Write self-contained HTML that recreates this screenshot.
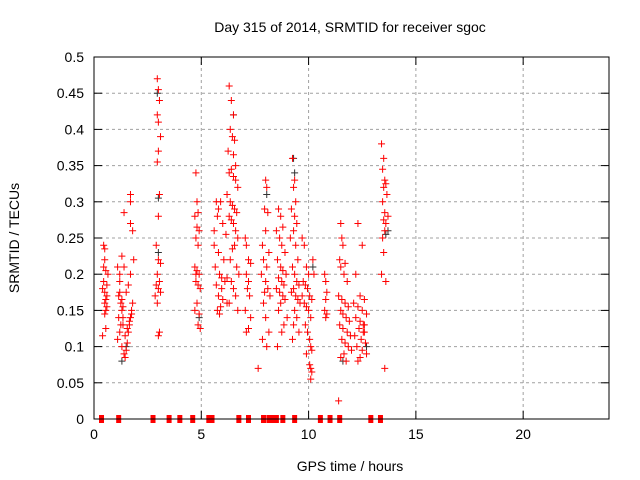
<!DOCTYPE html>
<html><head><meta charset="utf-8"><style>
html,body{margin:0;padding:0;background:#fff}
svg{display:block;font-family:"Liberation Sans",sans-serif}
</style></head><body>
<svg id="chart" width="640" height="480">
<text x="350" y="32" font-size="14" text-anchor="middle">Day 315 of 2014, SRMTID for receiver sgoc</text>
<text x="350" y="471" font-size="14" text-anchor="middle">GPS time / hours</text>
<text x="19" y="238" font-size="14" text-anchor="middle" transform="rotate(-90 19 238)">SRMTID / TECUs</text>
<g id="grid"></g>
<g id="axes"></g>
<g id="black"></g>
<g id="red"></g>
<rect x="94" y="57" width="515" height="362" fill="none" stroke="#000" stroke-width="1"/>
</svg>
<script>
const xTicks=[0,5,10,15,20];
const yTicks=[0,0.05,0.1,0.15,0.2,0.25,0.3,0.35,0.4,0.45,0.5];
const yTickLabels=["0","0.05","0.1","0.15","0.2","0.25","0.3","0.35","0.4","0.45","0.5"];
const redHours=[0.45,0.5,0.5,0.45,0.55,0.4,0.5,0.6,0.55,0.5,0.6,0.55,0.4,0.55,0.45,0.6,0.5,0.65,
1.1,1.2,1.15,1.25,1.3,1.35,1.2,1.1,1.3,1.4,1.45,1.5,1.55,1.6,1.65,1.7,1.75,1.8,1.5,1.6,1.7,1.4,1.3,1.2,1.15,1.25,1.35,1.45,1.55,1.65,1.75,1.85,1.2,1.3,1.7,1.7,1.4,1.7,1.8,1.35,
2.95,3.0,3.05,2.95,3.0,3.1,3.0,2.95,3.05,3.0,2.9,3.0,3.1,2.95,3.05,2.9,3.0,3.1,2.85,2.95,3.05,3.0,
4.75,4.8,4.85,4.7,4.8,4.9,4.75,4.85,4.7,4.8,4.9,4.75,4.85,4.95,4.8,4.7,4.9,4.85,4.95,4.75,
5.6,5.7,5.8,5.75,5.9,6.0,5.65,5.85,5.95,6.1,5.7,5.8,6.0,6.2,5.9,5.75,5.85,6.05,5.6,6.15,5.95,5.8,
6.3,6.4,6.5,6.35,6.45,6.55,6.25,6.5,6.6,6.4,6.3,6.5,6.6,6.7,6.2,6.35,6.45,6.55,6.65,6.3,6.4,6.5,6.6,6.7,6.55,6.45,6.35,6.65,6.75,6.2,6.4,6.5,6.6,6.3,6.7,
7.05,7.1,7.2,7.3,7.1,7.2,7.15,7.25,7.05,7.3,7.2,7.1,
8.0,8.05,7.95,8.1,8.0,7.85,8.15,7.9,8.05,7.8,8.0,8.1,7.95,8.2,7.9,8.0,8.15,7.85,8.05,7.65,
8.6,8.7,8.8,8.5,8.65,8.75,8.9,8.55,8.7,8.8,8.95,8.6,8.75,8.85,8.5,8.65,8.8,8.9,8.7,8.6,9.0,8.85,8.75,8.55,
9.25,9.35,9.3,9.4,9.2,9.35,9.45,9.3,9.15,9.4,9.5,9.25,9.35,9.45,9.55,9.3,9.2,9.4,9.5,9.6,9.35,9.45,9.3,9.55,9.25,
9.7,9.8,9.9,10.0,9.75,9.85,9.95,10.05,10.15,9.8,9.9,10.0,10.1,9.85,9.95,10.05,10.1,10.15,10.05,10.1,10.15,10.1,9.7,10.2,10.25,9.9,
10.75,10.8,10.85,10.8,10.75,10.85,10.8,
11.5,11.55,11.6,11.45,11.7,11.5,11.65,11.8,11.4,11.55,11.7,11.85,11.5,11.6,11.75,11.9,11.45,11.6,11.8,11.95,11.55,11.7,11.85,11.65,11.5,11.75,11.4,12.0,
12.3,12.5,12.2,12.4,12.6,12.1,12.3,12.5,12.7,12.2,12.4,12.6,12.35,12.55,12.15,12.45,12.65,12.25,12.5,12.7,12.4,12.3,12.6,12.55,
13.4,13.5,13.45,13.55,13.6,13.5,13.65,13.45,13.55,13.7,13.5,13.6,13.55,13.45,13.5,13.4,13.6,13.55];
const redValues=[.24,.235,.22,.21,.205,.18,.175,.17,.165,.16,.155,.15,.115,.125,.19,.185,.145,.2,
.21,.2,.17,.16,.15,.13,.12,.11,.1,.09,.085,.095,.105,.12,.13,.14,.15,.16,.175,.185,.2,.21,.225,.19,.14,.13,.14,.115,.125,.135,.145,.22,.175,.165,.31,.3,.285,.27,.26,.155,
.47,.455,.44,.42,.41,.39,.37,.355,.31,.28,.24,.22,.215,.2,.19,.185,.18,.175,.17,.16,.12,.115,
.34,.3,.285,.28,.265,.26,.25,.24,.21,.205,.2,.19,.185,.18,.16,.15,.145,.13,.125,.2,
.26,.3,.29,.28,.3,.27,.21,.2,.195,.19,.185,.17,.165,.16,.155,.15,.145,.22,.24,.255,.18,.23,
.46,.44,.42,.4,.39,.385,.37,.365,.35,.345,.34,.335,.33,.32,.31,.3,.295,.29,.285,.28,.275,.27,.26,.25,.24,.235,.22,.21,.2,.195,.19,.18,.17,.16,.15,
.25,.24,.22,.215,.2,.19,.18,.17,.15,.14,.125,.12,
.33,.32,.29,.285,.26,.24,.23,.22,.21,.2,.19,.18,.175,.17,.16,.14,.12,.11,.1,.07,
.29,.28,.265,.26,.25,.24,.23,.22,.21,.205,.2,.195,.19,.185,.18,.175,.17,.165,.16,.15,.14,.13,.12,.1,
.36,.33,.32,.3,.29,.28,.27,.26,.25,.24,.22,.21,.2,.19,.185,.18,.175,.17,.165,.16,.15,.14,.13,.12,.11,
.25,.24,.21,.2,.19,.185,.18,.17,.165,.16,.155,.15,.14,.13,.12,.11,.1,.095,.075,.07,.065,.055,.17,.22,.2,.09,
.2,.19,.175,.165,.15,.145,.14,
.27,.25,.24,.22,.215,.21,.2,.19,.17,.165,.16,.155,.15,.145,.14,.135,.13,.125,.12,.115,.11,.105,.1,.09,.085,.08,.025,.095,
.27,.24,.2,.17,.165,.16,.155,.15,.145,.14,.135,.13,.125,.12,.115,.11,.105,.1,.095,.09,.085,.08,.12,.13,
.38,.36,.345,.33,.325,.32,.31,.3,.285,.28,.275,.27,.26,.25,.23,.2,.19,.07];
const blackHours=[1.3,1.5,2.95,3.0,3.0,6.5,8.05,9.3,9.35,10.2,11.6,12.7,13.6,13.7,4.9];
const blackValues=[.08,.1,.45,.305,.23,.42,.31,.36,.34,.21,.08,.1,.255,.26,.14];
const zeroHours=[0.35,1.15,2.75,3.5,4.0,4.6,5.35,5.5,6.75,7.2,7.9,8.15,8.35,8.5,8.8,9.35,10.55,11.0,11.45,12.9,13.35];

const NS="http://www.w3.org/2000/svg";
const X0=94,X1=609,Y0=419,Y1=57;
function xs(h){return X0+h*(X1-X0)/24;}
function ys(v){return Y0-v*(Y0-Y1)/0.5;}
function mk(tag,attrs,parent){const e=document.createElementNS(NS,tag);for(const k in attrs)e.setAttribute(k,attrs[k]);parent.appendChild(e);return e;}
const grid=document.getElementById('grid'),axes=document.getElementById('axes');
yTicks.forEach((t,i)=>{
  const y=ys(t);
  if(i>0&&i<yTicks.length-1){const l=mk('line',{x1:X0,x2:X1,y1:y,y2:y,stroke:'#a0a0a0','stroke-dasharray':'3,3'},grid);
  
  }
  mk('line',{x1:X0,x2:X0+8,y1:y,y2:y,stroke:'#000'},axes);
  mk('line',{x1:X1,x2:X1-8,y1:y,y2:y,stroke:'#000'},axes);
  const tx=mk('text',{x:X0-10,y:y+5,'font-size':14,'text-anchor':'end'},axes);
  tx.textContent=yTickLabels[i];
  
  
});
xTicks.forEach(t=>{
  const x=xs(t);
  if(t>0){const l=mk('line',{x1:x,x2:x,y1:Y0,y2:Y1,stroke:'#a0a0a0','stroke-dasharray':'3,3'},grid);
  
  }
  mk('line',{x1:x,x2:x,y1:Y0,y2:Y0-8,stroke:'#000'},axes);
  mk('line',{x1:x,x2:x,y1:Y1,y2:Y1+8,stroke:'#000'},axes);
  const tx=mk('text',{x:x,y:Y0+20,'font-size':14,'text-anchor':'middle'},axes);
  tx.textContent=String(t);
  
  
});
function plus(g,x,y,c){
  const p=mk('path',{d:`M${x-3.5},${y}h7M${x},${y-3.5}v7`,stroke:c,'stroke-width':1,fill:'none'},g);
  return p;
}
const bg=document.getElementById('black'),rg=document.getElementById('red');
blackHours.forEach((h,i)=>{
  const p=plus(bg,xs(h),ys(blackValues[i]),'#333');
  
  
});
redHours.forEach((h,i)=>{
  const p=plus(rg,xs(h),ys(redValues[i]),'#f00');
  
  
});
zeroHours.forEach(h=>{
  const r=mk('rect',{x:xs(h)-2.5,y:Y0-4,width:5,height:8,fill:'#f00'},rg);
  
  
});
</script>
</body></html>
